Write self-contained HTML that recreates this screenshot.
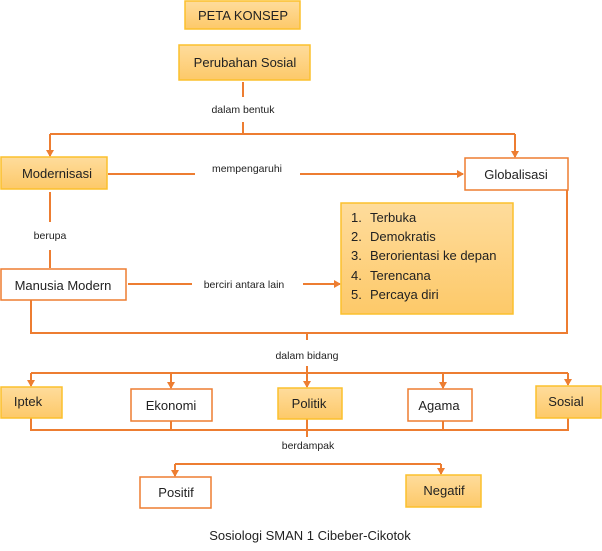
<!DOCTYPE html>
<html><head><meta charset="utf-8"><style>
html,body{margin:0;padding:0;background:#fff;}
svg{display:block;font-family:"Liberation Sans",sans-serif;}
</style></head><body>
<svg width="602" height="551" viewBox="0 0 602 551" xmlns="http://www.w3.org/2000/svg">
<defs>
<linearGradient id="g" x1="0" y1="0" x2="0" y2="1"><stop offset="0" stop-color="#fedc9c"/><stop offset="1" stop-color="#fdc969"/></linearGradient>
<marker id="a" markerWidth="8" markerHeight="8" refX="6" refY="4" orient="auto" markerUnits="userSpaceOnUse"><path d="M0,0 L7,4 L0,8 z" fill="#ed7d31"/></marker>
</defs>
<g fill="none" stroke="#ed7d31" stroke-width="2">
<path d="M243 82 V97 M243 122 V134 M50 134 H515"/>
<path d="M50 134 V156" marker-end="url(#a)"/>
<path d="M515 134 V157" marker-end="url(#a)"/>
<path d="M108 174 H195"/>
<path d="M300 174 H463" marker-end="url(#a)"/>
<path d="M50 192 V222 M50 250 V268"/>
<path d="M128 284 H192"/>
<path d="M303 284 H340" marker-end="url(#a)"/>
<path d="M567 190 V333 H31 V300 M307 333 V340"/>
<path d="M31 373 H568"/>
<path d="M31 373 V386" marker-end="url(#a)"/>
<path d="M171 373 V388" marker-end="url(#a)"/>
<path d="M307 366 V387" marker-end="url(#a)"/>
<path d="M443 373 V388" marker-end="url(#a)"/>
<path d="M568 373 V385" marker-end="url(#a)"/>
<path d="M31 418 V430 H568 V418 M171 421 V431 M307 419 V437 M443 421 V431"/>
<path d="M175 464 H441"/>
<path d="M175 464 V476" marker-end="url(#a)"/>
<path d="M441 464 V474" marker-end="url(#a)"/>
</g>
<g stroke-width="1.5">
<rect x="185" y="1" width="115" height="28" fill="url(#g)" stroke="#fbc02d"/>
<rect x="179" y="45" width="131" height="35" fill="url(#g)" stroke="#fbc02d"/>
<rect x="1" y="157" width="106" height="32" fill="url(#g)" stroke="#fbc02d"/>
<rect x="465" y="158" width="103" height="32" fill="#fff" stroke="#ed7d31"/>
<rect x="1" y="269" width="125" height="31" fill="#fff" stroke="#ed7d31"/>
<rect x="341" y="203" width="172" height="111" fill="url(#g)" stroke="#fbc02d"/>
<rect x="1" y="387" width="61" height="31" fill="url(#g)" stroke="#fbc02d"/>
<rect x="131" y="389" width="81" height="32" fill="#fff" stroke="#ed7d31"/>
<rect x="278" y="388" width="64" height="31" fill="url(#g)" stroke="#fbc02d"/>
<rect x="408" y="389" width="64" height="32" fill="#fff" stroke="#ed7d31"/>
<rect x="536" y="386" width="65" height="32" fill="url(#g)" stroke="#fbc02d"/>
<rect x="140" y="477" width="71" height="31" fill="#fff" stroke="#ed7d31"/>
<rect x="406" y="475" width="75" height="32" fill="url(#g)" stroke="#fbc02d"/>
</g>
<g fill="#222" font-size="13" text-anchor="middle">
<text x="243" y="20">PETA KONSEP</text>
<text x="245" y="67">Perubahan Sosial</text>
<text x="57" y="178">Modernisasi</text>
<text x="516" y="179">Globalisasi</text>
<text x="63" y="290">Manusia Modern</text>
<text x="28" y="406">Iptek</text>
<text x="171" y="410">Ekonomi</text>
<text x="309" y="408">Politik</text>
<text x="439" y="410">Agama</text>
<text x="566" y="406">Sosial</text>
<text x="176" y="497">Positif</text>
<text x="444" y="495">Negatif</text>
<text x="310" y="540">Sosiologi SMAN 1 Cibeber-Cikotok</text>
</g>
<g fill="#222" font-size="13">
<text x="351" y="222">1.</text><text x="370" y="222">Terbuka</text>
<text x="351" y="241">2.</text><text x="370" y="241">Demokratis</text>
<text x="351" y="260">3.</text><text x="370" y="260">Berorientasi ke depan</text>
<text x="351" y="280">4.</text><text x="370" y="280">Terencana</text>
<text x="351" y="299">5.</text><text x="370" y="299">Percaya diri</text>
</g>
<g fill="#222" font-size="10.5" text-anchor="middle">
<text x="243" y="113">dalam bentuk</text>
<text x="247" y="172">mempengaruhi</text>
<text x="50" y="239">berupa</text>
<text x="244" y="288">berciri antara lain</text>
<text x="307" y="359">dalam bidang</text>
<text x="308" y="449">berdampak</text>
</g>
</svg>
</body></html>
